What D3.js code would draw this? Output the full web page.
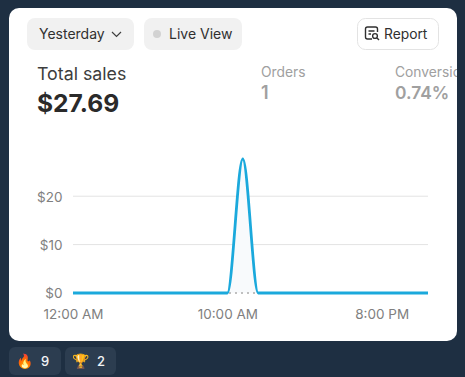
<!DOCTYPE html>
<html>
<head>
<meta charset="utf-8">
<script src="https://cdn.jsdelivr.net/npm/d3@7"></script>
<style>
html, body { margin: 0; padding: 0; background: #1e2f42; overflow: hidden; }
text { font-family: Inter, "Noto Sans", sans-serif; }
</style>
</head>
<body>
<div id="chart"></div>
<script>
// hourly sales for the day, one sale at 11 AM
const hours = d3.range(0, 24);
const sales = [0,0,0,0,0,0,0,0,0,0,0,27.69,0,0,0,0,0,0,0,0,0,0,0,0];
const previous = [0,0,0,0,0,0,0,0,0,0,0,0,0,0,0,0,0,0,0,0,0,0,0,0];
const yTicks = [0, 10, 20];
const xTicks = [0, 10, 20];
const xTickLabels = ['12:00 AM', '10:00 AM', '8:00 PM'];
const badgeIcons = ['🔥', '🏆'];
const badgeCounts = [9, 2];

const width = 465, height = 377;

const svg = d3.select('#chart')
  .append('svg')
  .attr('width', width)
  .attr('height', height)
  .style('display', 'block');

// card, everything in it gets clipped to the rounded corners
svg.append('clipPath').attr('id', 'cardClip')
  .append('rect').attr('x', 9).attr('y', 8).attr('width', 448).attr('height', 333).attr('rx', 10);

const card = svg.append('g').attr('clip-path', 'url(#cardClip)');
card.append('rect').attr('x', 9).attr('y', 8).attr('width', 448).attr('height', 333).attr('fill', '#fff');

function label(g, x, y, str, size, fill, weight) {
  return g.append('text')
    .attr('x', x)
    .attr('y', y)
    .attr('font-size', size)
    .attr('font-weight', weight || 400)
    .attr('fill', fill)
    .text(str);
}

// header pills
card.append('rect').attr('x', 27).attr('y', 18).attr('width', 107).attr('height', 32).attr('rx', 8).attr('fill', '#f1f1f1');
label(card, 39, 39, 'Yesterday', 14, '#303030', 400);
card.append('path').attr('d', 'M112 32l4.5 4.5 4.5-4.5').attr('fill', 'none').attr('stroke', '#404040').attr('stroke-width', 1.2);

card.append('rect').attr('x', 144).attr('y', 18).attr('width', 98).attr('height', 32).attr('rx', 8).attr('fill', '#f1f1f1');
card.append('circle').attr('cx', 157).attr('cy', 34).attr('r', 4).attr('fill', '#d2d2d2');
label(card, 169, 39, 'Live View', 14, '#303030', 400);

card.append('rect').attr('x', 357.5).attr('y', 18.5).attr('width', 81).attr('height', 31).attr('rx', 8).attr('fill', '#fff').attr('stroke', '#e3e3e3');
card.append('path')
  .attr('d', 'M372 39h-4.5a2 2 0 0 1-2-2v-8a2 2 0 0 1 2-2h8a2 2 0 0 1 2 2v3 M368.5 31h6 M368.5 34h2.5')
  .attr('fill', 'none').attr('stroke', '#303030').attr('stroke-width', 1.4);
card.append('circle').attr('cx', 375).attr('cy', 36).attr('r', 2.4).attr('fill', 'none').attr('stroke', '#303030').attr('stroke-width', 1.4);
card.append('path').attr('d', 'M377 38l2 2').attr('stroke', '#303030').attr('stroke-width', 1.4);
label(card, 384, 39, 'Report', 13.8, '#303030', 400);

// summary numbers
label(card, 37, 80, 'Total sales', 17.8, '#3d3d3d', 400);
label(card, 37, 112, '$27.69', 24.6, '#2a2a2a', 700);
label(card, 261, 77, 'Orders', 13.8, '#a0a0a0', 400);
label(card, 261, 99, '1', 18, '#a0a0a0', 600);
label(card, 395, 77, 'Conversion', 13.8, '#a0a0a0', 400);
label(card, 395, 99, '0.74%', 17.4, '#a0a0a0', 600);

// chart
const x = d3.scaleLinear().domain([0, 23]).range([73, 428]);
const y = d3.scaleLinear().domain([0, 27.69]).range([293, 159]);

const yAxis = d3.axisLeft(y).tickValues(yTicks).tickSize(0).tickFormat(d => '$' + d);
const xAxis = d3.axisBottom(x).tickValues(xTicks).tickSize(0).tickFormat((d, i) => xTickLabels[i]);

const yAxisGroup = card.append('g').attr('transform', 'translate(62.5,0)').call(yAxis);
yAxisGroup.select('.domain').remove();
yAxisGroup.selectAll('text').attr('font-size', 13.5).attr('fill', '#808080').attr('x', 0).attr('dy', '0.36em');

const xAxisGroup = card.append('g').attr('transform', 'translate(0,309)').call(xAxis);
xAxisGroup.select('.domain').remove();
xAxisGroup.selectAll('text').attr('font-size', 13.5).attr('fill', '#808080').attr('y', 0).attr('dy', '0.71em');

card.selectAll('.grid')
  .data(yTicks.filter(d => d > 0))
  .enter()
  .append('line')
  .attr('class', 'grid')
  .attr('x1', x(0))
  .attr('x2', x(23))
  .attr('y1', d => y(d))
  .attr('y2', d => y(d))
  .attr('stroke', '#e3e3e3');

const area = d3.area()
  .x((d, i) => x(hours[i]))
  .y0(y(0))
  .y1(d => y(d))
  .curve(d3.curveMonotoneX);

const line = d3.line()
  .x((d, i) => x(hours[i]))
  .y(d => y(d))
  .curve(d3.curveMonotoneX);

card.append('path')
  .datum(sales)
  .attr('d', area)
  .attr('fill', '#f8fafc');

card.append('path')
  .datum(previous)
  .attr('d', line)
  .attr('fill', 'none')
  .attr('stroke', '#c0c0c0')
  .attr('stroke-width', 2)
  .attr('stroke-dasharray', '2 4');

card.append('path')
  .datum(sales)
  .attr('d', line)
  .attr('fill', 'none')
  .attr('stroke', '#1ba9dc')
  .attr('stroke-width', 2.8)
  .attr('stroke-linejoin', 'round');

// reaction badges under the card
const badgeX = d3.scaleOrdinal().domain([0, 1]).range([9, 65]);
const badges = svg.selectAll('.badge')
  .data(badgeCounts)
  .enter()
  .append('g')
  .attr('class', 'badge')
  .attr('transform', (d, i) => 'translate(' + badgeX(i) + ',347)');

badges.append('rect').attr('width', (d, i) => i ? 51 : 52).attr('height', 28).attr('rx', 6).attr('fill', '#2c3d50');
badges.append('text')
  .attr('x', 7)
  .attr('y', 19)
  .attr('font-size', 14)
  .text((d, i) => badgeIcons[i]);
badges.append('text')
  .attr('x', 32)
  .attr('y', 19)
  .attr('font-size', 13)
  .attr('font-weight', 500)
  .attr('fill', '#f2f4f6')
  .text(d => d);
</script>
</body>
</html>
